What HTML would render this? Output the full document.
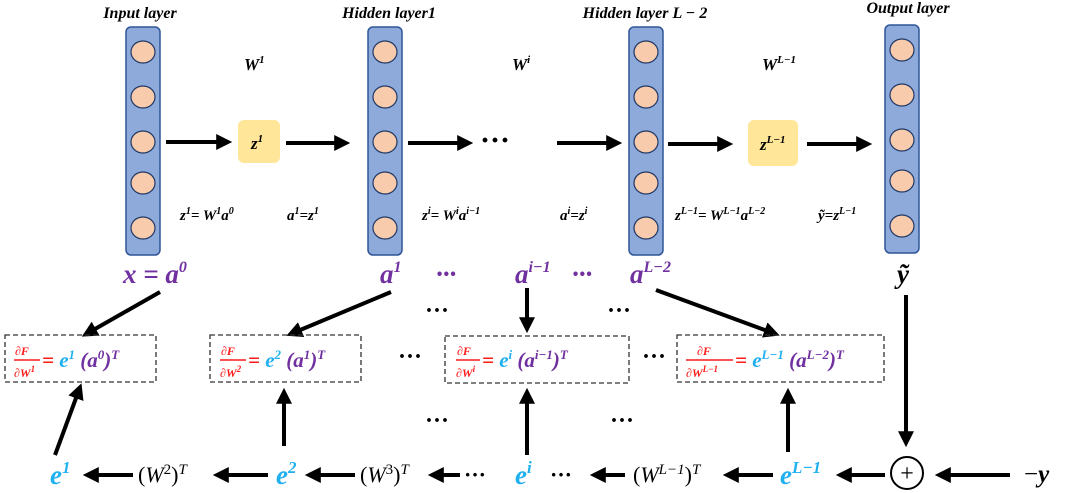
<!DOCTYPE html>
<html><head><meta charset="utf-8"><style>
html,body{margin:0;padding:0;background:#fff}
svg{display:block}
.m{font-family:"Liberation Serif",serif;font-style:italic;font-weight:bold}
.h{font-family:"Liberation Serif",serif;font-style:italic;font-weight:bold;font-size:16px}
.eq{font-family:"Liberation Serif",serif;font-style:italic;font-weight:bold}
.p{fill:#7030a0}.b{fill:#1fb0f0}.r{fill:#ff1a1a}
.n{font-family:"Liberation Serif",serif;font-size:22px}
</style></head><body>
<svg width="1080" height="493" viewBox="0 0 1080 493" xmlns="http://www.w3.org/2000/svg">
<defs>
<marker id="a" markerWidth="4" markerHeight="4" refX="2.2" refY="2" orient="auto" markerUnits="strokeWidth"><path d="M0,0 L4,2 L0,4z" fill="#000"/></marker>
<g id="col"><rect x="0" y="0" width="34" height="228" rx="5" fill="#8eaadb" stroke="#2f5597" stroke-width="1.5"/>
<ellipse cx="17" cy="25" rx="12" ry="11" fill="#f8cbad" stroke="#203864" stroke-width="1.2"/>
<ellipse cx="17" cy="70" rx="12" ry="11" fill="#f8cbad" stroke="#203864" stroke-width="1.2"/>
<ellipse cx="17" cy="115" rx="12" ry="11" fill="#f8cbad" stroke="#203864" stroke-width="1.2"/>
<ellipse cx="17" cy="156" rx="12" ry="11" fill="#f8cbad" stroke="#203864" stroke-width="1.2"/>
<ellipse cx="17" cy="201" rx="12" ry="11" fill="#f8cbad" stroke="#203864" stroke-width="1.2"/></g>
</defs>
<use href="#col" x="126" y="27"/><use href="#col" x="368" y="27"/><use href="#col" x="629" y="27"/><use href="#col" x="885" y="25"/>
<rect x="238" y="120" width="42" height="43" rx="6" fill="#ffe699"/>
<rect x="748" y="120" width="50" height="46" rx="6" fill="#ffe699"/>
<text x="251" y="149" class="eq" style="font-size:17px">z<tspan dy="-7" font-size="11">1</tspan></text>
<text x="760" y="150" class="eq" style="font-size:17px">z<tspan dy="-7" font-size="11">L−1</tspan></text>
<g stroke="#000" stroke-width="4" marker-end="url(#a)" fill="none">
<line x1="166" y1="142" x2="225" y2="142"/><line x1="286" y1="143" x2="343" y2="143"/>
<line x1="408" y1="143" x2="466" y2="143"/><line x1="557" y1="143" x2="615" y2="143"/>
<line x1="668" y1="144" x2="726" y2="144"/><line x1="807" y1="144" x2="865" y2="144"/>
<line x1="160" y1="292" x2="88" y2="333"/><line x1="391" y1="292" x2="293" y2="333"/>
<line x1="527" y1="288" x2="527" y2="326"/><line x1="656" y1="290" x2="773" y2="333"/>
<line x1="55" y1="455" x2="79" y2="390"/><line x1="284" y1="446" x2="284" y2="395"/>
<line x1="527" y1="455" x2="527" y2="395"/><line x1="788" y1="452" x2="788" y2="395"/>
<line x1="906" y1="295" x2="906" y2="440"/>
<line x1="133" y1="475" x2="90" y2="475"/><line x1="268" y1="475" x2="220" y2="475"/>
<line x1="355" y1="475" x2="312" y2="475"/><line x1="460" y1="475" x2="435" y2="475"/>
<line x1="625" y1="475" x2="597" y2="475"/><line x1="773" y1="475" x2="730" y2="475"/>
<line x1="885" y1="475" x2="843" y2="475"/><line x1="1010" y1="475" x2="942" y2="475"/>
</g>
<circle cx="907" cy="473" r="16" fill="#fff" stroke="#000" stroke-width="2"/>
<text x="907" y="481" text-anchor="middle" font-family="Liberation Serif" font-size="24">+</text>
<g font-family="Liberation Serif" font-weight="bold" font-size="30" fill="#000">
<text x="480" y="150">···</text></g>
<text x="140" y="18" text-anchor="middle" class="h">Input layer</text>
<text x="389" y="18" text-anchor="middle" class="h">Hidden layer1</text>
<text x="645" y="18" text-anchor="middle" class="h">Hidden layer L − 2</text>
<text x="908" y="13" text-anchor="middle" class="h">Output layer</text>
<text x="244" y="70" class="eq" style="font-size:17px">W<tspan dy="-7" font-size="11">1</tspan></text>
<text x="512" y="70" class="eq" style="font-size:17px">W<tspan dy="-7" font-size="11">i</tspan></text>
<text x="762" y="70" class="eq" style="font-size:17px">W<tspan dy="-7" font-size="11">L−1</tspan></text>
<g class="eq" style="font-size:15px">
<text x="180" y="220">z<tspan dy="-6" font-size="10">1</tspan><tspan dy="6">= W</tspan><tspan dy="-6" font-size="10">1</tspan><tspan dy="6">a</tspan><tspan dy="-6" font-size="10">0</tspan></text>
<text x="287" y="220">a<tspan dy="-6" font-size="10">1</tspan><tspan dy="6">=z</tspan><tspan dy="-6" font-size="10">1</tspan></text>
<text x="422" y="220">z<tspan dy="-6" font-size="10">i</tspan><tspan dy="6">= W</tspan><tspan dy="-6" font-size="10">i</tspan><tspan dy="6">a</tspan><tspan dy="-6" font-size="10">i−1</tspan></text>
<text x="560" y="220">a<tspan dy="-6" font-size="10">i</tspan><tspan dy="6">=z</tspan><tspan dy="-6" font-size="10">i</tspan></text>
<text x="675" y="220">z<tspan dy="-6" font-size="10">L−1</tspan><tspan dy="6">= W</tspan><tspan dy="-6" font-size="10">L−1</tspan><tspan dy="6">a</tspan><tspan dy="-6" font-size="10">L−2</tspan></text>
<text x="818" y="220">ỹ=z<tspan dy="-6" font-size="10">L−1</tspan></text>
</g>
<g class="m p" font-size="27">
<text x="123" y="283">x = a<tspan dy="-11" font-size="16">0</tspan></text>
<text x="380" y="283">a<tspan dy="-11" font-size="16">1</tspan></text>
<text x="436" y="283">···</text>
<text x="515" y="283">a<tspan dy="-11" font-size="16">i−1</tspan></text>
<text x="572" y="283">···</text>
<text x="630" y="283">a<tspan dy="-11" font-size="16">L−2</tspan></text>
</g>
<text x="897" y="283" class="m" font-size="27">ỹ</text>
<g fill="none" stroke="#333" stroke-width="1.3" stroke-dasharray="5,3">
<rect x="5" y="335" width="151" height="47"/><rect x="210" y="335" width="151" height="47"/>
<rect x="445" y="336" width="184" height="47"/><rect x="677" y="335" width="207" height="47"/>
</g>
<g font-family="Liberation Serif" font-weight="bold" font-size="24">
<text x="398" y="364">···</text><text x="642" y="364">···</text>
<text x="425" y="318">···</text><text x="607" y="318">···</text>
<text x="425" y="428">···</text><text x="610" y="428">···</text>
</g>
<g class="m">
<g class="r" font-size="12"><text x="15" y="355">∂F</text><text x="14" y="377">∂W<tspan dy="-5" font-size="9">1</tspan></text></g>
<line x1="14" y1="360" x2="40" y2="360" stroke="#ff1a1a" stroke-width="1.5"/>
<text x="42" y="367" font-size="21"><tspan class="r">= </tspan><tspan class="b">e</tspan><tspan class="b" dy="-8" font-size="13">1</tspan><tspan class="p" dy="8"> (a</tspan><tspan class="p" dy="-8" font-size="13">0</tspan><tspan class="p" dy="8">)</tspan><tspan class="p" dy="-8" font-size="13">T</tspan></text>
<g class="r" font-size="12"><text x="221" y="355">∂F</text><text x="220" y="377">∂W<tspan dy="-5" font-size="9">2</tspan></text></g>
<line x1="220" y1="360" x2="246" y2="360" stroke="#ff1a1a" stroke-width="1.5"/>
<text x="248" y="367" font-size="21"><tspan class="r">= </tspan><tspan class="b">e</tspan><tspan class="b" dy="-8" font-size="13">2</tspan><tspan class="p" dy="8"> (a</tspan><tspan class="p" dy="-8" font-size="13">1</tspan><tspan class="p" dy="8">)</tspan><tspan class="p" dy="-8" font-size="13">T</tspan></text>
<g class="r" font-size="12"><text x="457" y="355">∂F</text><text x="456" y="377">∂W<tspan dy="-5" font-size="9">i</tspan></text></g>
<line x1="456" y1="360" x2="480" y2="360" stroke="#ff1a1a" stroke-width="1.5"/>
<text x="482" y="367" font-size="21"><tspan class="r">= </tspan><tspan class="b">e</tspan><tspan class="b" dy="-8" font-size="13">i</tspan><tspan class="p" dy="8"> (a</tspan><tspan class="p" dy="-8" font-size="13">i−1</tspan><tspan class="p" dy="8">)</tspan><tspan class="p" dy="-8" font-size="13">T</tspan></text>
<g class="r" font-size="12"><text x="697" y="355">∂F</text><text x="686" y="377">∂W<tspan dy="-5" font-size="9">L−1</tspan></text></g>
<line x1="686" y1="360" x2="733" y2="360" stroke="#ff1a1a" stroke-width="1.5"/>
<text x="735" y="367" font-size="21"><tspan class="r">= </tspan><tspan class="b">e</tspan><tspan class="b" dy="-8" font-size="13">L−1</tspan><tspan class="p" dy="8"> (a</tspan><tspan class="p" dy="-8" font-size="13">L−2</tspan><tspan class="p" dy="8">)</tspan><tspan class="p" dy="-8" font-size="13">T</tspan></text>
</g>
<g class="m b" font-size="27">
<text x="50" y="484">e<tspan dy="-11" font-size="17">1</tspan></text>
<text x="276" y="484">e<tspan dy="-11" font-size="17">2</tspan></text>
<text x="515" y="484">e<tspan dy="-11" font-size="17">i</tspan></text>
<text x="780" y="484">e<tspan dy="-11" font-size="17">L−1</tspan></text>
</g>
<g class="n">
<text x="138" y="482">(<tspan font-style="italic">W</tspan><tspan dy="-8" font-size="15">2</tspan><tspan dy="8">)</tspan><tspan dy="-8" font-size="15" font-style="italic">T</tspan></text>
<text x="360" y="482">(<tspan font-style="italic">W</tspan><tspan dy="-8" font-size="15">3</tspan><tspan dy="8">)</tspan><tspan dy="-8" font-size="15" font-style="italic">T</tspan></text>
<text x="633" y="482">(<tspan font-style="italic">W</tspan><tspan dy="-8" font-size="15" font-style="italic">L−1</tspan><tspan dy="8">)</tspan><tspan dy="-8" font-size="15" font-style="italic">T</tspan></text>
<text x="464" y="482" font-weight="bold">···</text><text x="550" y="482" font-weight="bold">···</text>
<text x="1024" y="482" font-size="25">−<tspan class="m">y</tspan></text>
</g>
</svg>
</body></html>
